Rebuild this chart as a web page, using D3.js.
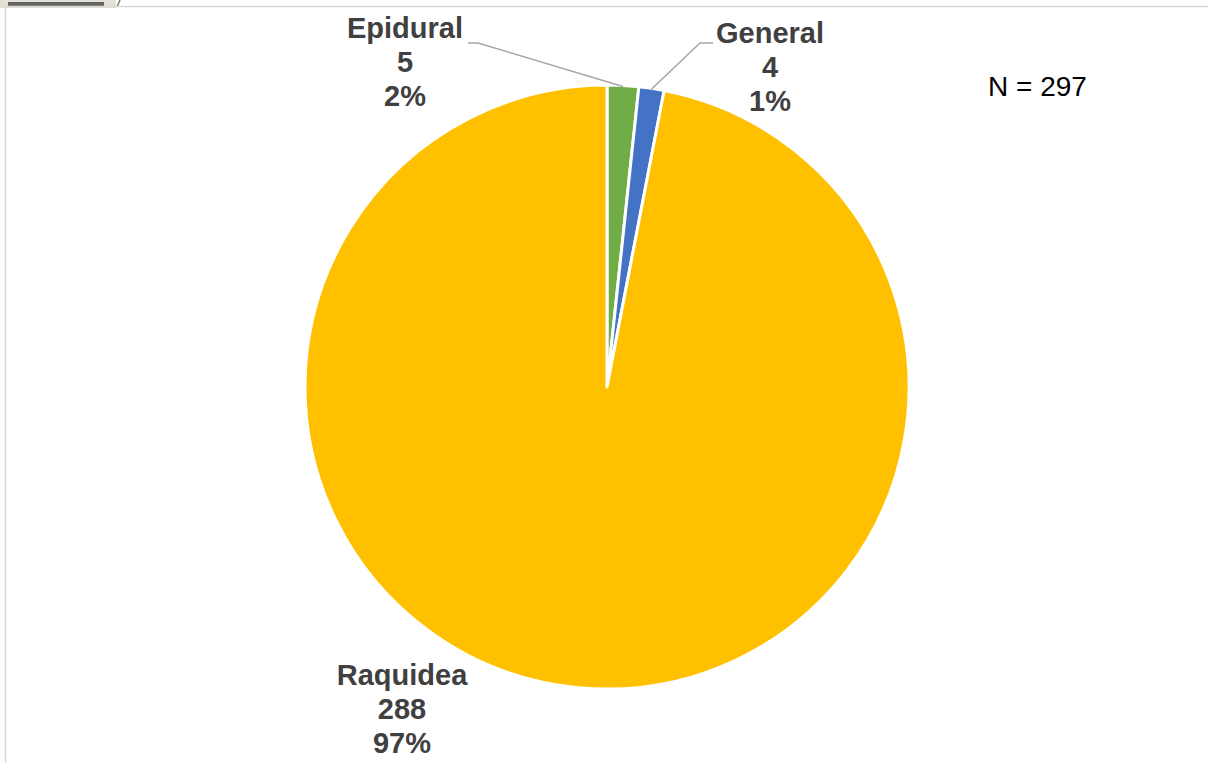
<!DOCTYPE html>
<html>
<head>
<meta charset="utf-8">
<script src="https://cdn.jsdelivr.net/npm/d3@7"></script>
<style>
  body { margin: 0; background: white; }
  svg { display: block; font-family: "Liberation Sans", Arial, sans-serif; }
</style>
</head>
<body>
<div id="container"></div>
<script>
let w = 1208;
let h = 763;

// data
let categories = ["Epidural", "General", "Raquidea"];
let counts = [5, 4, 288];
let colors = ["#70AD47", "#4472C4", "#FFC000"];
let total = d3.sum(counts);

let viz = d3.select("#container")
  .append("svg")
    .attr("width", w)
    .attr("height", h)
    .style("background-color", "white");

// chart frame (cropped screenshot edge, drawn as shapes)
viz.append("rect").attr("x", 0).attr("y", 0).attr("width", 116).attr("height", 8).attr("fill", "#e4e1d6");
viz.append("rect").attr("x", 8).attr("y", 2).attr("width", 96).attr("height", 5).attr("fill", "#3a3a3a").attr("opacity", 0.75);
viz.append("line").attr("x1", 117).attr("y1", 7).attr("x2", 120).attr("y2", 0).attr("stroke", "#6b8a5a").attr("stroke-width", 1.5);
viz.append("line").attr("x1", 5).attr("y1", 6.5).attr("x2", w).attr("y2", 6.5).attr("stroke", "#d9d9d9").attr("stroke-width", 1.5);
viz.append("line").attr("x1", 5.5).attr("y1", 6).attr("x2", 5.5).attr("y2", h).attr("stroke", "#d9d9d9").attr("stroke-width", 1.5);

let cx = 607, cy = 387, r = 302;

let pie = d3.pie().sort(null).value(d => d);
let arc = d3.arc().innerRadius(0).outerRadius(r);
let arcs = pie(counts);

let g = viz.append("g").attr("transform", "translate(" + cx + "," + cy + ")");
g.selectAll("path")
  .data(arcs)
  .enter()
  .append("path")
    .attr("d", arc)
    .attr("fill", (d, i) => colors[i])
    .attr("stroke", "white")
    .attr("stroke-width", 3)
    .attr("stroke-linejoin", "round");

// labels (x center, first baseline)
let labelPos = [[405, 38], [770, 43], [402, 685]];
let lh = 34;
categories.forEach((c, i) => {
  let t = viz.append("text")
    .attr("text-anchor", "middle")
    .attr("font-size", 29)
    .attr("font-weight", "bold")
    .attr("fill", "#404040");
  let lines = [c, counts[i], Math.round(counts[i] / total * 100) + "%"];
  lines.forEach((s, k) => {
    t.append("tspan").attr("x", labelPos[i][0]).attr("y", labelPos[i][1] + k * lh).text(s);
  });
});

// leader lines
let leaders = [
  [[468, 43], [478, 43]],
  [[713, 43], [700, 43]]
];
leaders.forEach((pts, i) => {
  let a = (arcs[i].startAngle + arcs[i].endAngle) / 2;
  let end = [cx + Math.sin(a) * (r - 1), cy - Math.cos(a) * (r - 1)];
  viz.append("path")
    .attr("d", d3.line()(pts.concat([end])))
    .attr("fill", "none")
    .attr("stroke", "#a6a6a6")
    .attr("stroke-width", 1.5);
});

viz.append("text")
  .attr("x", 988)
  .attr("y", 96)
  .attr("font-size", 28)
  .attr("fill", "black")
  .text("N = " + total);
</script>
</body>
</html>
